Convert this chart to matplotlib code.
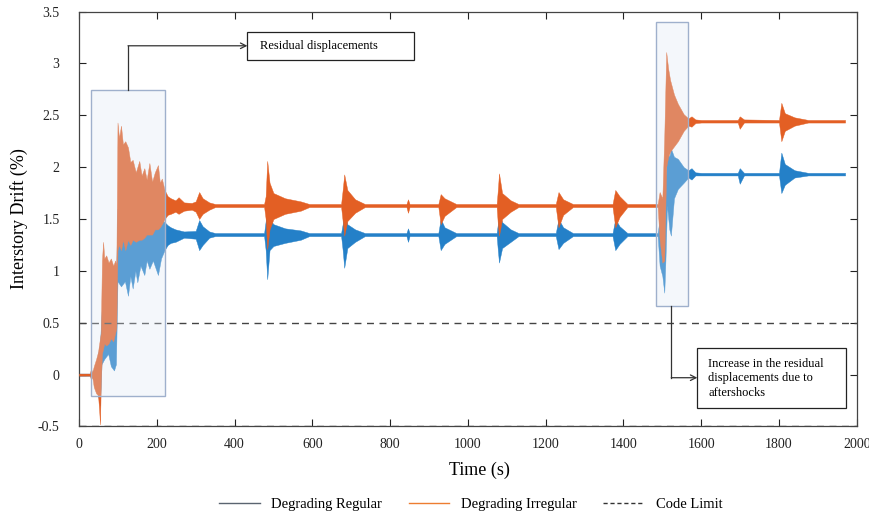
#!/usr/bin/env python3

import matplotlib
matplotlib.use("Agg")
import matplotlib.pyplot as plt
from matplotlib.lines import Line2D
from matplotlib.patches import Rectangle

# envelope of the Degrading Irregular response (time s, upper %, lower %)
t_irr = [0, 28, 31, 34, 38, 44, 49, 52, 54, 56, 59, 62, 65, 70, 76, 82, 88, 93, 96,
         99, 103, 108, 113, 119, 126, 132, 138, 146, 155, 161, 168, 174, 181, 188, 195,
         203, 208, 213, 220, 228, 236, 248, 256, 270, 290, 300, 309, 318, 335, 350,
         476, 480, 484, 490, 500, 530, 570, 592, 674, 678, 682, 690, 710, 735,
         842, 846, 850, 924, 930, 940, 970, 1074, 1077, 1080, 1088, 1110, 1130,
         1226, 1233, 1245, 1270, 1372, 1379, 1390, 1410, 1488, 1493, 1500, 1505,
         1510, 1515, 1520, 1530, 1540, 1555, 1567, 1575, 1585, 1600, 1694, 1699,
         1710, 1800, 1806, 1815, 1840, 1875, 1970]
hi_irr = [0.01, 0.01, 0.06, 0.02, 0.08, 0.15, 0.22, 0.30, 0.35, 0.40, 1.10, 1.28, 1.12,
          1.15, 1.08, 1.12, 1.05, 1.10, 1.05,
          2.43, 2.28, 2.40, 2.22, 2.25, 2.19, 2.05, 2.07, 1.95, 2.06, 1.92, 1.99, 1.88,
          2.04, 1.86, 1.95, 2.02, 1.85, 1.89, 1.78, 1.72, 1.70, 1.68, 1.71, 1.66, 1.655,
          1.67, 1.76, 1.70, 1.66, 1.645,
          1.645, 1.72, 2.06, 1.85, 1.75, 1.70, 1.67, 1.645, 1.645, 1.78, 1.93, 1.78,
          1.69, 1.645,
          1.645, 1.69, 1.645, 1.645, 1.74, 1.70, 1.645, 1.645, 1.78, 1.94, 1.75, 1.68,
          1.645,
          1.645, 1.76, 1.69, 1.645, 1.645, 1.78, 1.72, 1.645, 1.645, 1.76, 1.70, 2.30,
          3.11, 2.95, 2.84, 2.70, 2.61, 2.51, 2.47, 2.49, 2.46, 2.455, 2.455, 2.49,
          2.46, 2.455, 2.62, 2.52, 2.48, 2.455, 2.455]
lo_irr = [-0.01, -0.01, -0.05, -0.02, -0.12, -0.18, -0.20, -0.35, -0.48, -0.10, 0.20,
          0.25, 0.30, 0.28, 0.30, 0.35, 0.32, 0.40, 0.45,
          1.20, 1.25, 1.20, 1.30, 1.20, 1.30, 1.25, 1.30, 1.28, 1.30, 1.30, 1.32, 1.35,
          1.35, 1.35, 1.40, 1.40, 1.42, 1.45, 1.50, 1.54, 1.55, 1.57, 1.55, 1.58, 1.59,
          1.57, 1.50, 1.55, 1.59, 1.615,
          1.615, 1.50, 1.21, 1.40, 1.50, 1.55, 1.58, 1.615, 1.615, 1.48, 1.34, 1.48,
          1.56, 1.615,
          1.615, 1.56, 1.615, 1.615, 1.45, 1.53, 1.615, 1.615, 1.45, 1.34, 1.50, 1.57,
          1.615,
          1.615, 1.42, 1.54, 1.615, 1.615, 1.42, 1.52, 1.615, 1.615, 1.30, 1.08, 1.10,
          2.00, 2.10, 2.15, 2.20, 2.25, 2.35, 2.40, 2.39, 2.425, 2.43, 2.43, 2.37,
          2.43, 2.43, 2.25, 2.35, 2.40, 2.43, 2.43]

# envelope of the Degrading Regular response
t_reg = [0, 28, 34, 44, 54, 58, 65, 75, 82, 90, 95,
         99, 108, 118, 126, 132, 138, 145, 150, 158, 168, 174, 181, 190, 203, 211,
         220, 228, 236, 248, 270, 300, 309, 318, 335, 350,
         476, 480, 484, 490, 500, 530, 570, 592, 674, 678, 682, 690, 710, 735,
         842, 846, 850, 924, 930, 940, 970, 1074, 1077, 1080, 1088, 1110, 1130,
         1226, 1233, 1245, 1270, 1372, 1379, 1390, 1410, 1488, 1493, 1500, 1505,
         1508, 1512, 1518, 1522, 1530, 1540, 1555, 1567, 1575, 1585, 1600, 1694,
         1699, 1710, 1800, 1806, 1815, 1840, 1875, 1970]
hi_reg = [0.01, 0.01, 0.02, 0.10, 0.30, 0.60, 0.90, 0.90, 0.85, 0.80, 0.90,
          1.60, 1.60, 1.55, 1.50, 1.45, 1.50, 1.45, 1.50, 1.45, 1.50, 1.45, 1.50, 1.45,
          1.50, 1.50,
          1.47, 1.44, 1.42, 1.40, 1.38, 1.385, 1.49, 1.43, 1.38, 1.365,
          1.365, 1.48, 1.60, 1.50, 1.45, 1.41, 1.39, 1.365, 1.365, 1.45, 1.55, 1.45,
          1.40, 1.365,
          1.365, 1.41, 1.365, 1.365, 1.50, 1.42, 1.365, 1.365, 1.45, 1.55, 1.47, 1.40,
          1.365,
          1.365, 1.50, 1.42, 1.365, 1.365, 1.50, 1.43, 1.365, 1.365, 1.50, 1.35, 1.30,
          1.90, 2.15, 2.10, 2.18, 2.10, 2.08, 2.00, 1.97, 1.99, 1.95, 1.945, 1.945,
          1.99, 1.945, 1.945, 2.14, 2.03, 1.97, 1.945, 1.945]
lo_reg = [-0.01, -0.01, -0.02, -0.10, -0.30, 0.10, 0.15, 0.20, 0.08, 0.04, 0.10,
          0.90, 0.85, 0.90, 0.76, 0.95, 0.83, 1.00, 0.89, 1.05, 0.96, 1.10, 1.02, 1.10,
          0.96, 1.12,
          1.20, 1.25, 1.27, 1.28, 1.32, 1.31, 1.20, 1.25, 1.32, 1.335,
          1.335, 1.20, 0.92, 1.20, 1.24, 1.27, 1.30, 1.335, 1.335, 1.20, 1.03, 1.22,
          1.28, 1.335,
          1.335, 1.28, 1.335, 1.335, 1.20, 1.26, 1.335, 1.335, 1.20, 1.08, 1.22, 1.28,
          1.335,
          1.335, 1.21, 1.27, 1.335, 1.335, 1.20, 1.26, 1.335, 1.335, 1.05, 0.95, 0.79,
          1.10, 1.63, 1.40, 1.34, 1.70, 1.79, 1.85, 1.90, 1.88, 1.92, 1.92, 1.92,
          1.84, 1.92, 1.92, 1.75, 1.83, 1.90, 1.92, 1.92]

code_limit = [0.5, -0.5]

x_ticks = [0, 200, 400, 600, 800, 1000, 1200, 1400, 1600, 1800, 2000]
y_ticks = [-0.5, 0, 0.5, 1, 1.5, 2, 2.5, 3, 3.5]
y_tick_labels = ["-0.5", "0", "0.5", "1", "1.5", "2", "2.5", "3", "3.5"]

BLUE = "#2480C8"
ORANGE = "#E35F24"
SERIF = "Liberation Serif"
BOX_FILL = (0.86, 0.9, 0.95, 0.3)


def main():
    plt.rcParams["font.family"] = SERIF

    fig = plt.figure(figsize=(8.7, 5.18), dpi=100)
    ax = fig.add_axes([0.0908, 0.1767, 0.894, 0.801])

    ax.fill_between(t_reg, lo_reg, hi_reg, color=BLUE, lw=0.3, zorder=2)
    ax.fill_between(t_irr, lo_irr, hi_irr, color=ORANGE, lw=0.3, zorder=3)
    for lim in code_limit:
        ax.axhline(lim, color="#444444", lw=1.0, ls=(0, (5, 4)), zorder=5)

    # highlighted regions
    ax.add_patch(Rectangle((32, -0.21), 189, 2.95, fc=BOX_FILL,
                           ec="#9fb0cc", lw=1.0, zorder=6))
    ax.add_patch(Rectangle((1485, 0.66), 82, 2.74, fc=BOX_FILL,
                           ec="#9fb0cc", lw=1.0, zorder=6))

    # callout 1
    ax.plot([126, 126], [2.74, 3.17], color="#333333", lw=0.9, zorder=7)
    ax.annotate("", xy=(433, 3.17), xytext=(126, 3.17),
                arrowprops=dict(arrowstyle="->", color="#333333", lw=0.9,
                                shrinkA=0, shrinkB=0), zorder=7)
    ax.add_patch(Rectangle((433, 3.03), 429, 0.27, fc="white", ec="#222222",
                           lw=0.9, zorder=7))
    ax.text(465, 3.165, "Residual displacements", fontsize=9, va="center",
            ha="left", zorder=8)

    # callout 2
    ax.plot([1523, 1523], [0.66, -0.03], color="#333333", lw=0.9, zorder=7)
    ax.annotate("", xy=(1590, -0.03), xytext=(1523, -0.03),
                arrowprops=dict(arrowstyle="->", color="#333333", lw=0.9,
                                shrinkA=0, shrinkB=0), zorder=7)
    ax.add_patch(Rectangle((1590, -0.32), 382, 0.577, fc="white", ec="#222222",
                           lw=0.9, zorder=7))
    ax.text(1618, -0.035, "Increase in the residual\ndisplacements due to\naftershocks",
            fontsize=9, va="center", ha="left", linespacing=1.3, zorder=8)

    ax.set_xlim(0, 2000)
    ax.set_ylim(-0.5, 3.5)
    ax.set_xticks(x_ticks)
    ax.set_yticks(y_ticks)
    ax.set_yticklabels(y_tick_labels)
    ax.tick_params(direction="in", top=True, right=True, length=5, width=0.8,
                   labelsize=10, colors="#222222")
    ax.tick_params(axis="x", pad=8)
    ax.tick_params(axis="y", pad=14)
    for sp in ax.spines.values():
        sp.set_color("#444444")
        sp.set_linewidth(0.9)

    ax.set_ylabel("Interstory Drift (%)", fontsize=13)
    ax.yaxis.set_label_coords(-0.066, 0.5)
    ax.set_xlabel("Time (s)", fontsize=13)
    ax.xaxis.set_label_coords(0.515, -0.085)

    handles = [Line2D([], [], color="#5a6470", lw=1.0),
               Line2D([], [], color="#ED7D31", lw=1.0),
               Line2D([], [], color="#333333", lw=1.0, ls=(0, (3, 2)))]
    labels = ["Degrading Regular", "Degrading Irregular", "Code Limit"]
    fig.legend(handles, labels, loc="center", bbox_to_anchor=(0.541, 0.026), ncol=3,
               frameon=False, fontsize=10.5, handlelength=2.8, columnspacing=1.8,
               handletextpad=0.8)

    fig.savefig("out.png", dpi=100)
    plt.close(fig)


if __name__ == "__main__":
    main()
